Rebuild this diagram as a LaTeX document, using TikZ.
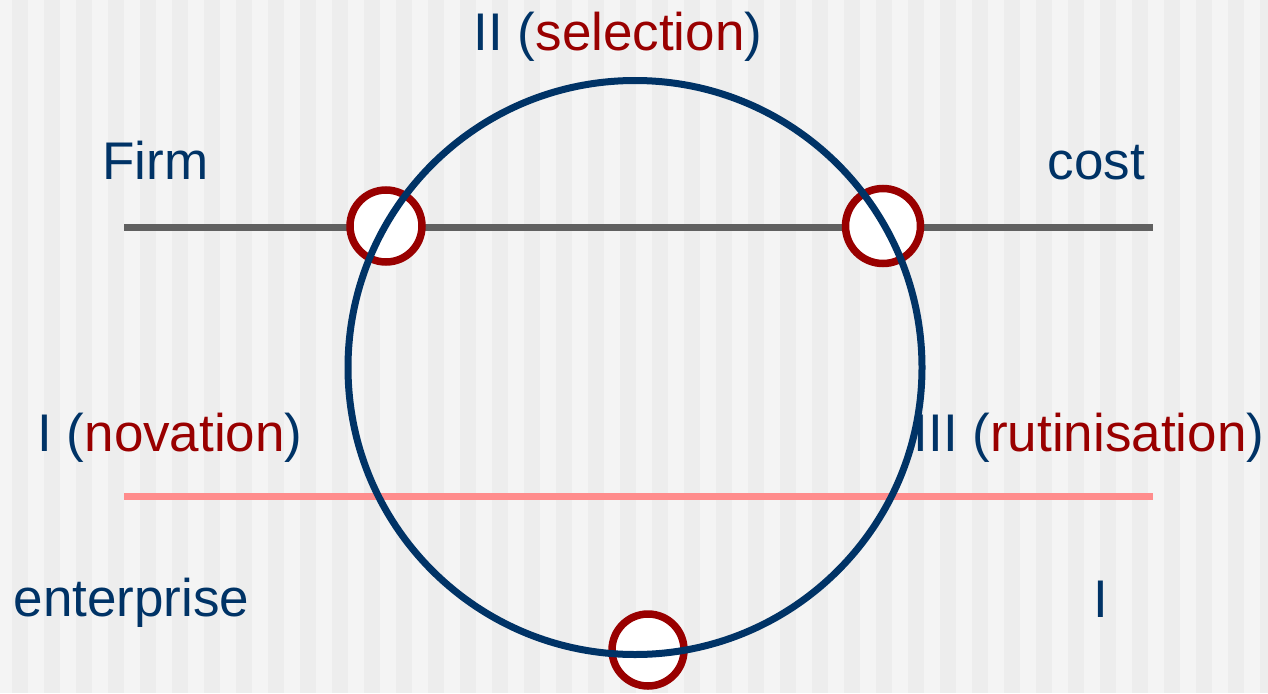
\documentclass[tikz,border=0pt]{standalone}
\usepackage{fontspec}
\setmainfont{Liberation Sans}
\definecolor{navy}{HTML}{003366}
\definecolor{dred}{HTML}{990000}
\definecolor{lgray}{HTML}{606060}
\definecolor{pinkl}{HTML}{FF8C8C}
\definecolor{bglight}{HTML}{F4F4F4}
\definecolor{bgdark}{HTML}{EDEDED}
\begin{document}
\begin{tikzpicture}[x=1pt,y=-1pt,
  lbl/.style={inner sep=0pt, anchor=base, text=navy, font=\fontsize{53}{60}\selectfont},
  ring/.style={circle, draw=dred, line width=7.5pt, fill=white, minimum size=72pt, inner sep=0pt},
  bigc/.style={circle, draw=navy, line width=7pt, minimum size=574pt, inner sep=0pt},
  hline/.style={line width=7pt}
]
\useasboundingbox (0,0) rectangle (1268,693);
\fill[bglight] (0,0) rectangle (1268,693);
\begin{scope}
\clip (0,0) rectangle (1268,693);
\foreach \k in {0,...,39} {
  \fill[bgdark] ({12+32*\k},0) rectangle ({28+32*\k},693);
}
\end{scope}
% lines
\coordinate (gl) at (124,227);
\coordinate (gr) at (1153,227);
\coordinate (pl) at (124,496);
\coordinate (pr) at (1153,496);
\draw[hline, lgray] (gl) -- (gr);
\draw[hline, pinkl] (pl) -- (pr);
% small rings
\node[ring] (r1) at (386,226) {};
\node[ring, minimum size=75pt] (r2) at (883,226) {};
\node[ring] (r3) at (648,650) {};
% big circle
\node[bigc] (big) at (635,367.5) {};
% labels
\node[lbl] (sel) at (618,51) {II (\textcolor{dred}{selection})};
\node[lbl] (firm) at (155.5,179) {Firm};
\node[lbl] (cost) at (1096.5,179) {cost};
\node[lbl] (nov) at (170,451) {I (\textcolor{dred}{novation})};
\node[lbl] (rut) at (1089,451) {III (\textcolor{dred}{rutinisation})};
\node[lbl] (ent) at (131.5,616) {enterprise};
\node[lbl] (one) at (1100.5,617) {I};
\end{tikzpicture}
\end{document}
